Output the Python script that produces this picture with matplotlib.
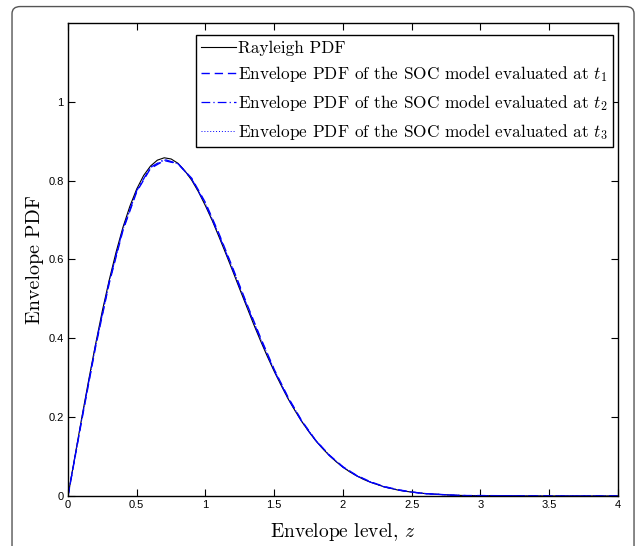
import numpy as np
import matplotlib
matplotlib.use('Agg')
from matplotlib import pyplot as plt
from matplotlib.patches import FancyBboxPatch

plt.rcParams['font.family'] = 'serif'
plt.rcParams['font.serif'] = ['cmr10', 'DejaVu Serif']
plt.rcParams['mathtext.fontset'] = 'cm'
plt.rcParams['axes.unicode_minus'] = False

# Rayleigh PDF
z_ray = [0.0, 0.05, 0.10, 0.15, 0.20, 0.25, 0.30, 0.35, 0.40, 0.45, 0.50,
         0.55, 0.60, 0.65, 0.70, 0.75, 0.80, 0.85, 0.90, 0.95, 1.00,
         1.05, 1.10, 1.15, 1.20, 1.25, 1.30, 1.35, 1.40, 1.45, 1.50,
         1.55, 1.60, 1.65, 1.70, 1.75, 1.80, 1.85, 1.90, 1.95, 2.00,
         2.05, 2.10, 2.15, 2.20, 2.25, 2.30, 2.35, 2.40, 2.45, 2.50,
         2.60, 2.70, 2.80, 2.90, 3.00, 3.20, 3.50, 4.00]
pdf_ray = [0.0, 0.100, 0.198, 0.293, 0.384, 0.470, 0.548, 0.619, 0.682, 0.735, 0.779,
           0.813, 0.837, 0.852, 0.858, 0.855, 0.844, 0.825, 0.801, 0.771, 0.736,
           0.698, 0.656, 0.613, 0.569, 0.524, 0.480, 0.436, 0.394, 0.354, 0.316,
           0.281, 0.247, 0.217, 0.189, 0.164, 0.141, 0.121, 0.103, 0.087, 0.073,
           0.061, 0.051, 0.042, 0.035, 0.029, 0.023, 0.019, 0.015, 0.012, 0.010,
           0.006, 0.004, 0.002, 0.001, 0.001, 0.0002, 0.0, 0.0]

# SOC model envelope PDFs at t1, t2, t3
z_soc = [0.0, 0.1, 0.2, 0.3, 0.4, 0.5, 0.6, 0.7, 0.8, 0.9, 1.0,
         1.1, 1.2, 1.3, 1.4, 1.5, 1.6, 1.7, 1.8, 1.9, 2.0,
         2.1, 2.2, 2.3, 2.4, 2.5, 2.6, 2.7, 2.8, 2.9, 3.0, 3.5, 4.0]
pdf_t1 = [0.0, 0.192, 0.377, 0.540, 0.674, 0.772, 0.831, 0.851, 0.843, 0.806, 0.744,
          0.664, 0.577, 0.488, 0.402, 0.321, 0.251, 0.191, 0.142, 0.104, 0.074,
          0.052, 0.036, 0.024, 0.016, 0.010, 0.006, 0.004, 0.002, 0.001, 0.001, 0.0, 0.0]
pdf_t2 = [0.0, 0.195, 0.381, 0.544, 0.678, 0.775, 0.834, 0.854, 0.843, 0.804, 0.740,
          0.660, 0.573, 0.484, 0.398, 0.318, 0.248, 0.189, 0.141, 0.103, 0.073,
          0.051, 0.035, 0.023, 0.015, 0.010, 0.006, 0.004, 0.002, 0.001, 0.001, 0.0, 0.0]
pdf_t3 = [0.0, 0.194, 0.379, 0.542, 0.676, 0.774, 0.833, 0.852, 0.843, 0.805, 0.742,
          0.662, 0.575, 0.486, 0.400, 0.320, 0.250, 0.190, 0.142, 0.104, 0.074,
          0.052, 0.036, 0.024, 0.016, 0.010, 0.006, 0.004, 0.002, 0.001, 0.001, 0.0, 0.0]

fig = plt.figure(figsize=(6.36, 5.46), dpi=100)

# rounded frame around the figure
frame = FancyBboxPatch((0.0189, -0.05), 0.978, 1.038,
                       boxstyle='round,pad=0,rounding_size=0.013',
                       transform=fig.transFigure, facecolor='none',
                       edgecolor='#555555', linewidth=1.0, clip_on=False)
fig.patches.append(frame)

ax = fig.add_axes([0.1069, 0.0916, 0.8648, 0.8663])

ax.plot(z_ray, pdf_ray, color='black', linewidth=0.8, label='Rayleigh PDF')
ax.plot(z_soc, pdf_t1, color='blue', linestyle=(0, (6, 3.5)), linewidth=1.0,
        label=r'Envelope PDF of the SOC model evaluated at $t_1$')
ax.plot(z_soc, pdf_t2, color='blue', linestyle=(0, (7, 2.5, 1, 2.5)), linewidth=0.9,
        label=r'Envelope PDF of the SOC model evaluated at $t_2$')
ax.plot(z_soc, pdf_t3, color='blue', linestyle=(0, (1, 2)), linewidth=0.7,
        label=r'Envelope PDF of the SOC model evaluated at $t_3$')

ax.set_xlim(0, 4)
ax.set_ylim(0, 1.2)
ax.set_xticks([0, 0.5, 1, 1.5, 2, 2.5, 3, 3.5, 4])
ax.set_xticklabels(['0', '0.5', '1', '1.5', '2', '2.5', '3', '3.5', '4'])
ax.set_yticks([0, 0.2, 0.4, 0.6, 0.8, 1])
ax.set_yticklabels(['0', '0.2', '0.4', '0.6', '0.8', '1'])
ax.tick_params(direction='in', top=True, right=True, length=5, width=0.8,
               labelsize=8, pad=3)
for lab in ax.get_xticklabels() + ax.get_yticklabels():
    lab.set_family('Liberation Sans')
for sp in ax.spines.values():
    sp.set_linewidth(1.0)

ax.set_xlabel(r'Envelope level, $z$', fontsize=14, labelpad=8)
ax.set_ylabel('Envelope PDF', fontsize=14.5, labelpad=3)

leg = ax.legend(loc='upper right', bbox_to_anchor=(0.991, 0.974), fontsize=12.4,
                frameon=True, fancybox=False, edgecolor='black', framealpha=1,
                handlelength=2.0, handletextpad=0.15, borderpad=0.3,
                labelspacing=0.5, borderaxespad=0)
leg.get_frame().set_linewidth(1.0)

fig.savefig('out.png', dpi=100)
